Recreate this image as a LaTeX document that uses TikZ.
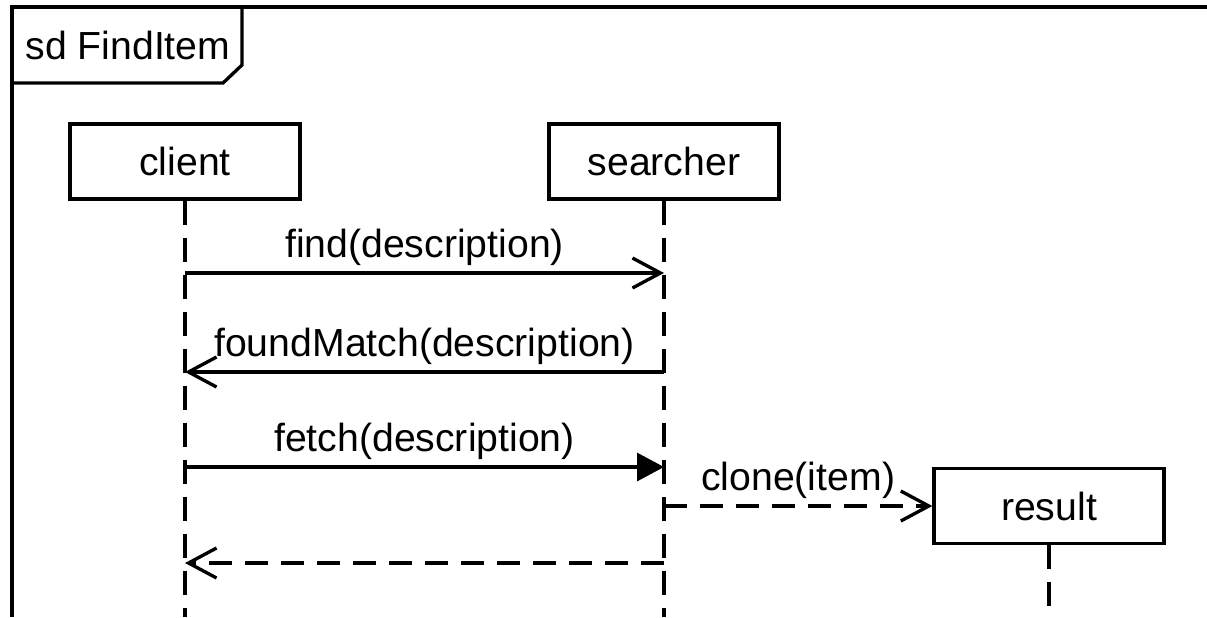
\documentclass[tikz,border=0pt]{standalone}
\usepackage{fontspec}
\setmainfont{Liberation Sans}
\usetikzlibrary{arrows.meta, positioning, calc}

\tikzset{
  lbl/.style={font=\fontsize{22.3}{27}\selectfont},
  obj/.style={draw, line width=1.9pt, minimum width=4.6cm, minimum height=1.5cm, inner sep=0pt, lbl},
  life/.style={line width=1.9pt, dash pattern=on 0.48cm off 0.26cm},
  call/.style={line width=1.9pt, -{Straight Barb[length=0.56cm,width=0.6cm,line width=1.9pt]}},
  sync/.style={line width=1.9pt, -{Triangle[length=0.54cm,width=0.56cm]}},
  reply/.style={call, dash pattern=on 0.46cm off 0.26cm}
}

\begin{document}
\begin{tikzpicture}
\useasboundingbox (0,0) rectangle (24.14,-12.34);
% Frame
\draw[line width=1.9pt] (0.24,-12.34) -- (0.24,-0.14) -- (24.14,-0.14);
\draw[line width=1.9pt] (0.24,-1.66) -- (4.46,-1.66) -- (4.84,-1.30) -- (4.84,-0.14);
\node[lbl] (title) at (2.56,-0.90) {sd FindItem};
% Objects
\node[obj] (client) at (3.70,-3.23) {client};
\node[obj] (searcher) at (13.28,-3.23) {searcher};
\node[obj] (result) at (20.98,-10.12) {result};
% Lifelines
\foreach \o in {client,searcher,result}
  \draw[life] (\o.south) -- (\o.south |- 0,-12.34);
% Messages
\draw[call] (client |- 0,-5.46) -- (searcher |- 0,-5.46) node[midway,above,lbl] (m1) {find(description)};
\draw[call] (searcher |- 0,-7.44) -- (client |- 0,-7.44) node[midway,above,lbl] (m2) {foundMatch(description)};
\draw[sync] (client |- 0,-9.34) -- (searcher |- 0,-9.34) node[midway,above,lbl] (m3) {fetch(description)};
\draw[reply] (searcher |- result.west) -- (result.west) node[midway,above,lbl] (m4) {clone(item)};
\draw[reply] (searcher |- 0,-11.26) -- (client |- 0,-11.26);
\end{tikzpicture}
\end{document}
